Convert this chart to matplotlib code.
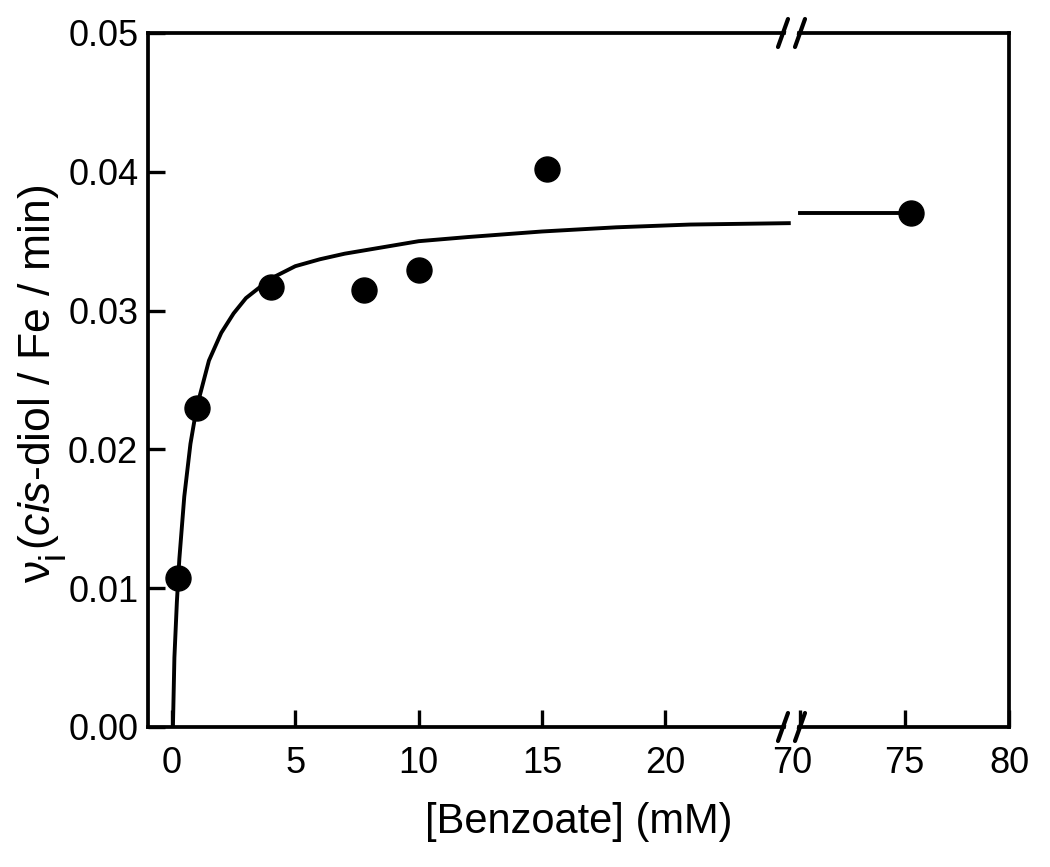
import matplotlib
matplotlib.use('Agg')
import matplotlib.pyplot as plt
from matplotlib.lines import Line2D
from matplotlib.patches import Polygon
from matplotlib.transforms import IdentityTransform

plt.rcParams['font.family'] = ['Liberation Sans', 'DejaVu Sans']
plt.rcParams['mathtext.fontset'] = 'custom'
plt.rcParams['mathtext.rm'] = 'Liberation Sans'
plt.rcParams['mathtext.it'] = 'Liberation Sans:italic'

# measured points
benzoate = [0.25, 1.0, 4.0, 7.8, 10.0, 15.2, 75.3]
rate = [0.0107, 0.0230, 0.0317, 0.0315, 0.0329, 0.0402, 0.0370]

# fitted curve
curve_x = [0.04, 0.1, 0.2, 0.3, 0.5, 0.75, 1.0, 1.5, 2.0, 2.5, 3.0, 4.0, 5.0,
           6.0, 7.0, 8.0, 10.0, 12.0, 15.0, 18.0, 21.0, 25.0]
curve_y = [0.0, 0.0050, 0.0090, 0.0121, 0.0166, 0.0204, 0.0230, 0.0264, 0.0284,
           0.0298, 0.0309, 0.0323, 0.0332, 0.0337, 0.0341, 0.0344, 0.0350,
           0.0353, 0.0357, 0.0360, 0.0362, 0.0363]
curve_x_right = [70.0, 75.3]
curve_y_right = [0.0370, 0.0370]

left_ticks = [0, 5, 10, 15, 20]
right_ticks = [70, 75, 80]
y_ticks = [0.00, 0.01, 0.02, 0.03, 0.04, 0.05]

W, H = 1050, 867
fig = plt.figure(figsize=(10.5, 8.67), dpi=100)
x0, xb, x1 = 148 / W, 792 / W, 1009 / W
y0, y1 = 1 - 727 / H, 1 - 33 / H
ax = fig.add_axes([x0, y0, xb - x0, y1 - y0])
ax2 = fig.add_axes([xb, y0, x1 - xb, y1 - y0], sharey=ax)

ax.plot(curve_x, curve_y, 'k-', lw=2.8, zorder=2)
ax.plot(benzoate, rate, 'ko', ms=18, zorder=3, clip_on=False)
ax2.plot(curve_x_right, curve_y_right, 'k-', lw=2.8, zorder=2)
ax2.plot(benzoate, rate, 'ko', ms=18, zorder=3, clip_on=False)

ax.set_xlim(-0.97, 25.13)
ax2.set_xlim(69.6, 80)
ax.set_ylim(0, 0.05)

ax.set_xticks(left_ticks)
ax2.set_xticks(right_ticks)
ax.set_yticks(y_ticks)
ax.set_yticklabels(['%.2f' % v for v in y_ticks])

for a in (ax, ax2):
    for s in a.spines.values():
        s.set_linewidth(2.7)
    a.tick_params(direction='in', length=12, width=2.4, labelsize=26)
ax.tick_params(axis='x', pad=14)
ax2.tick_params(axis='x', pad=14)
ax.tick_params(axis='y', pad=7)
ax.spines['right'].set_visible(False)
ax2.spines['left'].set_visible(False)
ax.tick_params(top=False, right=False)
ax2.tick_params(left=False, labelleft=False, right=False, top=False)
ax2.set_xticklabels(['', '75', '80'])

# "70" label sits under the break
fig.text(792 / W, y0 - 19.4 / H, '70', ha='center', va='top', fontsize=26)

# break marks on the bottom and top spines
for yc in (727, 33):
    fy = 1 - yc / H
    gap = Polygon([(785 / W, fy - 6 / H), (796 / W, fy - 6 / H),
                   (798 / W, fy + 6 / H), (787 / W, fy + 6 / H)],
                  closed=True, transform=fig.transFigure, fc='white',
                  ec='none', zorder=5)
    fig.add_artist(gap)
    for xc in (783, 800):
        fig.add_artist(Line2D([(xc - 5) / W, (xc + 5) / W],
                              [fy - 14 / H, fy + 14 / H],
                              transform=fig.transFigure, color='black',
                              lw=3, solid_capstyle='round', zorder=6))

# y label built from pieces so the subscript i can be large and low
fs_y = 32
x_base = 50
pieces = [('ν', fs_y, 0), ('i', fs_y * 0.8, 14),
          ('($\\mathit{cis}$-diol / Fe / min)', fs_y, 0)]
texts = []
for s, fs, drop in pieces:
    t = fig.text(0, 0, s, rotation=90, rotation_mode='anchor', ha='left',
                 va='baseline', fontsize=fs, transform=IdentityTransform())
    texts.append((t, drop))
fig.canvas.draw()
r = fig.canvas.get_renderer()
lengths = [t.get_window_extent(r).height for t, _ in texts]
y_pos = (H - 385) - sum(lengths) / 2
for (t, drop), L in zip(texts, lengths):
    t.set_position((x_base + drop, y_pos))
    y_pos += L + 1

fig.text((148 + 1009) / 2 / W, 1 - 822 / H, '[Benzoate] (mM)', ha='center',
         va='center', fontsize=30)

fig.savefig('out.png', dpi=100)
